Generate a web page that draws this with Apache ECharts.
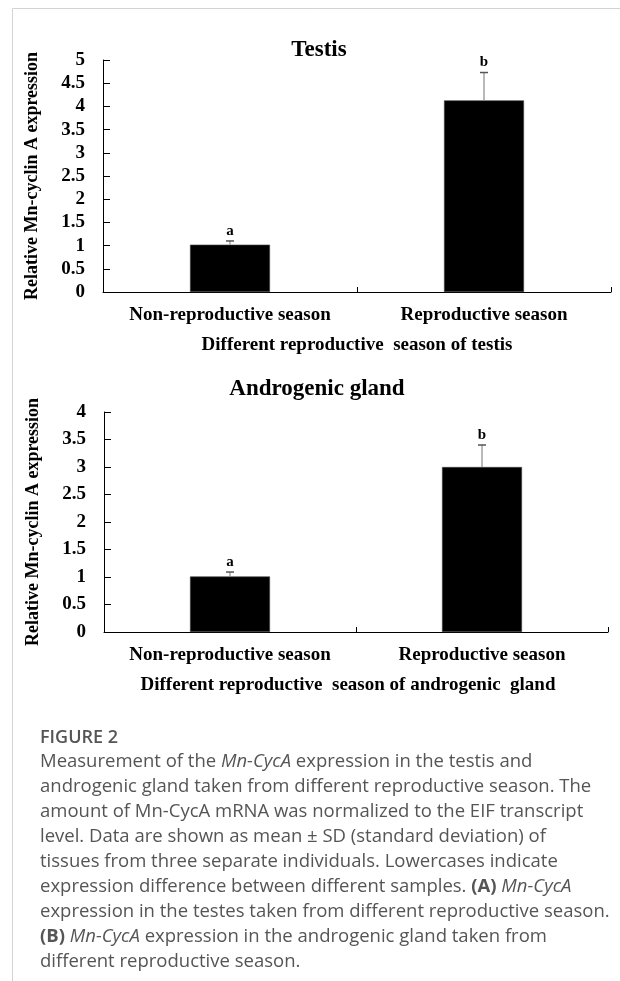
<!DOCTYPE html>
<html><head><meta charset="utf-8">
<script src="https://cdn.jsdelivr.net/npm/echarts@6/dist/echarts.min.js"></script>
<style>html,body{margin:0;padding:0;background:#fff}#c{width:620px;height:981px}</style>
</head><body><div id="c"></div>
<script>
// ---- data ----
const categories = ['Non-reproductive season', 'Reproductive season'];
const testisValues = [1.02, 4.13];
const testisSD = [0.08, 0.60];
const testisLetters = ['a', 'b'];
const glandValues = [1.01, 3.00];
const glandSD = [0.08, 0.40];
const glandLetters = ['a', 'b'];
const testisAxis = { min: 0, max: 5, interval: 0.5 };
const glandAxis = { min: 0, max: 4, interval: 0.5 };
const titles = ['Testis', 'Androgenic gland'];
const yName = 'Relative Mn-cyclin A expression';
const xNames = ['Different reproductive  season of testis', 'Different reproductive  season of androgenic  gland'];
const captionHead = 'FIGURE 2';
const captionLines = [
  'Measurement of the {i|Mn-CycA} expression in the testis and',
  'androgenic gland taken from different reproductive season. The',
  'amount of Mn-CycA mRNA was normalized to the EIF transcript',
  'level. Data are shown as mean ± SD (standard deviation) of',
  'tissues from three separate individuals. Lowercases indicate',
  'expression difference between different samples. {b|(A)} {i|Mn-CycA}',
  'expression in the testes taken from different reproductive season.',
  '{b|(B)} {i|Mn-CycA} expression in the androgenic gland taken from',
  'different reproductive season.'
];

const SERIF = 'Liberation Serif, Times New Roman, serif';
const chart = echarts.init(document.getElementById('c'), null, { renderer: 'canvas' });

function xAxisCfg(gi, name, namePad) {
  return {
    type: 'category', gridIndex: gi, data: categories,
    axisLine: { show: true, lineStyle: { color: '#000', width: 1 } },
    axisTick: { show: true, inside: true, length: 5, lineStyle: { color: '#000' } },
    axisLabel: { interval: 0, hideOverlap: false, color: '#000', fontFamily: SERIF, fontWeight: 'bold', fontSize: 19, margin: 14 },
    name: name, nameLocation: 'middle', nameGap: 44,
    nameTextStyle: { color: '#000', fontFamily: SERIF, fontWeight: 'bold', fontSize: 19, padding: namePad }
  };
}
function yAxisCfg(gi, ax) {
  return {
    type: 'value', gridIndex: gi, min: ax.min, max: ax.max, interval: ax.interval,
    axisLine: { show: true, lineStyle: { color: '#000', width: 1 } },
    axisTick: { show: true, inside: true, length: 7, lineStyle: { color: '#000' } },
    splitLine: { show: false },
    axisLabel: { color: '#000', fontFamily: SERIF, fontWeight: 'bold', fontSize: 19, margin: 18 },
    name: yName, nameLocation: 'middle', nameGap: 62, nameRotate: 90,
    nameTextStyle: { color: '#000', fontFamily: SERIF, fontWeight: 'bold', fontSize: 18 }
  };
}
function errSeries(gi, vals, sds, letters) {
  return {
    type: 'custom', xAxisIndex: gi, yAxisIndex: gi, z: 5,
    data: vals.map((v, i) => [i, v, sds[i]]),
    encode: { x: 0, y: 1 },
    renderItem: function (params, api) {
      const i = api.value(0), v = api.value(1), sd = api.value(2);
      const p0 = api.coord([i, v]);
      const p1 = api.coord([i, v + sd]);
      return {
        type: 'group', children: [
          { type: 'line', shape: { x1: p0[0], y1: p0[1], x2: p1[0], y2: p1[1] }, style: { stroke: '#8a8a8a', lineWidth: 1.2 } },
          { type: 'line', shape: { x1: p1[0] - 4, y1: p1[1], x2: p1[0] + 4, y2: p1[1] }, style: { stroke: '#555', lineWidth: 1.5 } },
          { type: 'text', x: p1[0], y: p1[1] - 10, style: { text: letters[params.dataIndex], fill: '#000', font: 'bold 15px ' + SERIF, align: 'center', verticalAlign: 'middle' } }
        ]
      };
    }
  };
}
function barSeries(gi, vals) {
  return {
    type: 'bar', xAxisIndex: gi, yAxisIndex: gi, data: vals, barWidth: 80,
    itemStyle: { color: '#000', borderColor: '#444', borderWidth: 0.6 }
  };
}

const capFont = '"Open Sans", sans-serif';
const capGraphics = [
  { type: 'line', shape: { x1: 12.5, y1: 8.5, x2: 620, y2: 8.5 }, style: { stroke: '#d3d3d3', lineWidth: 1 } },
  { type: 'line', shape: { x1: 12.5, y1: 8.5, x2: 12.5, y2: 981 }, style: { stroke: '#d3d3d3', lineWidth: 1 } },
  { type: 'text', x: 319, y: 50, style: { text: titles[0], font: 'bold 23px ' + SERIF, fill: '#000', align: 'center', verticalAlign: 'middle' } },
  { type: 'text', x: 317, y: 389, style: { text: titles[1], font: 'bold 23px ' + SERIF, fill: '#000', align: 'center', verticalAlign: 'middle' } },
  { type: 'text', x: 40, y: 738, style: { text: captionHead, font: '600 18px ' + capFont, fill: '#555', verticalAlign: 'middle' } }
];
captionLines.forEach((t, k) => {
  capGraphics.push({
    type: 'text', x: 40, y: 762 + k * 25,
    style: {
      text: t, font: '18.5px ' + capFont, fill: '#555', verticalAlign: 'middle',
      rich: {
        i: { fontStyle: 'italic', fontSize: 18.5, fontFamily: 'Open Sans', fill: '#555' },
        b: { fontWeight: 'bold', fontSize: 18.5, fontFamily: 'Open Sans', fill: '#555' }
      }
    }
  });
});

chart.setOption({
  animation: false,
  backgroundColor: '#fff',
  grid: [
    { left: 103, right: 9, top: 60, height: 232 },
    { left: 104, right: 12, top: 412, height: 220 }
  ],
  xAxis: [xAxisCfg(0, xNames[0], [0, 0, 0, 0]), xAxisCfg(1, xNames[1], [0, 16, 0, 0])],
  yAxis: [yAxisCfg(0, testisAxis), yAxisCfg(1, glandAxis)],
  series: [
    barSeries(0, testisValues), errSeries(0, testisValues, testisSD, testisLetters),
    barSeries(1, glandValues), errSeries(1, glandValues, glandSD, glandLetters)
  ],
  graphic: capGraphics
});
</script></body></html>
